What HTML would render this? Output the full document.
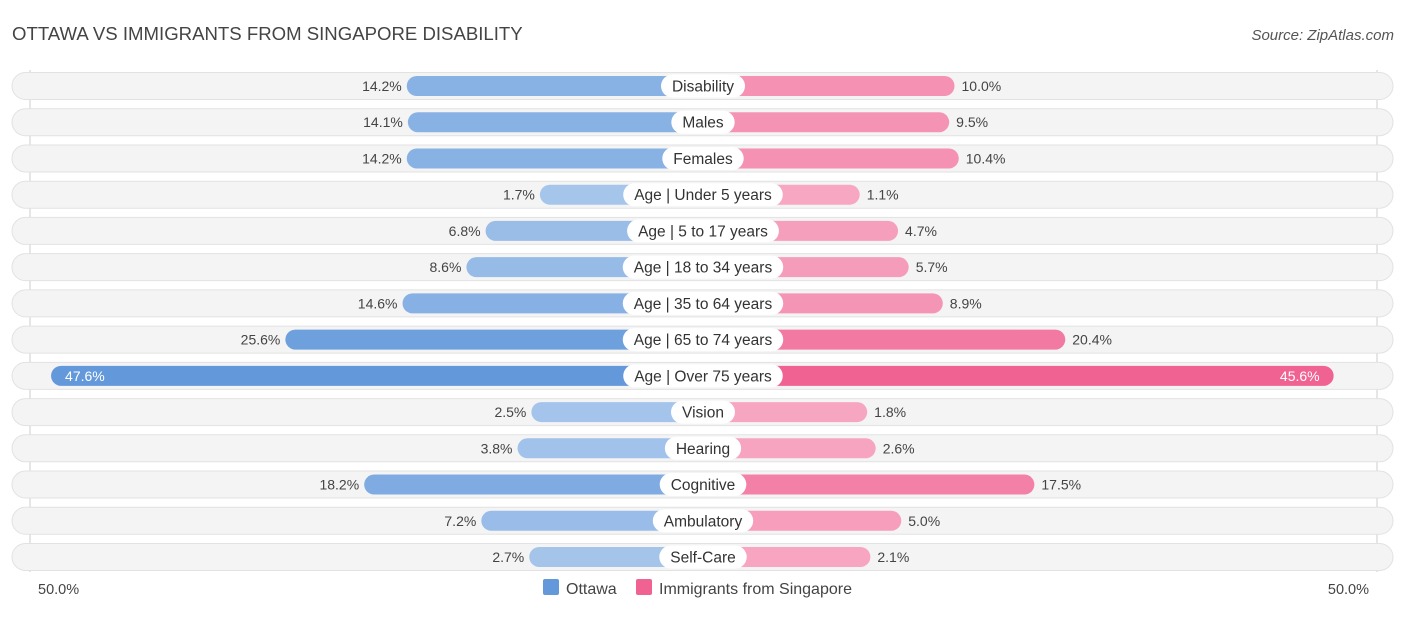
<!DOCTYPE html>
<html><head><meta charset="utf-8"><style>
body{margin:0;background:#fff;font-family:"Liberation Sans",sans-serif;}
</style></head><body>
<svg id="c" width="1406" height="612" xmlns="http://www.w3.org/2000/svg" font-family="Liberation Sans, sans-serif">
<text x="12" y="40" font-size="18.6" fill="#444">OTTAWA VS IMMIGRANTS FROM SINGAPORE DISABILITY</text>
<text x="1394" y="40" font-size="15" fill="#555" font-style="italic" text-anchor="end">Source: ZipAtlas.com</text>
<line x1="30" y1="70" x2="30" y2="572" stroke="#ccc"/>
<line x1="1377" y1="70" x2="1377" y2="572" stroke="#ccc"/>
<g id="rows"></g>
<text x="38" y="594" font-size="14.5" fill="#444">50.0%</text>
<text x="1369" y="594" font-size="14.5" fill="#444" text-anchor="end">50.0%</text>
<rect x="543" y="579" width="16" height="16" rx="2" fill="#6399db"/>
<text x="566" y="594" font-size="16" fill="#444">Ottawa</text>
<rect x="636" y="579" width="16" height="16" rx="2" fill="#f06292"/>
<text x="659" y="594" font-size="16" fill="#444">Immigrants from Singapore</text>
</svg>
<script>
const categories=["Disability","Males","Females","Age | Under 5 years","Age | 5 to 17 years","Age | 18 to 34 years","Age | 35 to 64 years","Age | 65 to 74 years","Age | Over 75 years","Vision","Hearing","Cognitive","Ambulatory","Self-Care"];
const ottawa=[14.2,14.1,14.2,1.7,6.8,8.6,14.6,25.6,47.6,2.5,3.8,18.2,7.2,2.7];
const singapore=[10.0,9.5,10.4,1.1,4.7,5.7,8.9,20.4,45.6,1.8,2.6,17.5,5.0,2.1];
const NS="http://www.w3.org/2000/svg";
const g=document.getElementById('rows');
const cx=703,y0=86,pitch=36.23,base=145,scale=10.65;
function xw(v){return base+scale*v;}
function mix(a,b,t){const p=s=>[1,3,5].map(i=>parseInt(s.substr(i,2),16));const A=p(a),B=p(b);return 'rgb('+A.map((c,i)=>Math.round(c+(B[i]-c)*t)).join(',')+')';}
function mk(tag,attrs){const e=document.createElementNS(NS,tag);for(const k in attrs)e.setAttribute(k,attrs[k]);return e;}
categories.forEach((cat,i)=>{
  const y=y0+i*pitch;
  const bg=mk('rect',{x:12,y:y-13.5,width:1381,height:27,rx:13.5,fill:'#f4f4f4',stroke:'#e2e2e2'});
  
  
  g.appendChild(bg);
  const t1=Math.min(ottawa[i]/30,1),t2=Math.min(singapore[i]/30,1);
  const wl=xw(ottawa[i]);
  const bl=mk('rect',{x:cx-wl,y:y-10,width:wl,height:20,rx:10,fill:mix('#aac8ec','#6399db',t1)});
  
  
  g.appendChild(bl);
  const wr=xw(singapore[i]);
  const br=mk('rect',{x:cx,y:y-10,width:wr,height:20,rx:10,fill:mix('#f7aac4','#f06292',t2)});
  
  
  g.appendChild(br);
  const big=ottawa[i]>40;
  const lv=mk('text',{x:big?cx-wl+14:cx-wl-5,y:y+5,'font-size':14,fill:big?'#fff':'#444','text-anchor':big?'start':'end'});
  lv.textContent=ottawa[i].toFixed(1)+'%';
  
  
  g.appendChild(lv);
  const big2=singapore[i]>40;
  const rv=mk('text',{x:big2?cx+wr-14:cx+wr+7,y:y+5,'font-size':14,fill:big2?'#fff':'#444','text-anchor':big2?'end':'start'});
  rv.textContent=singapore[i].toFixed(1)+'%';
  
  
  g.appendChild(rv);
  const lab=mk('text',{x:cx,y:y+5.5,'font-size':15.5,fill:'#333','text-anchor':'middle'});
  lab.textContent=cat;
  
  
  g.appendChild(lab);
  const w=lab.getComputedTextLength()+22;
  const pill=mk('rect',{x:cx-w/2,y:y-11.5,width:w,height:23,rx:11.5,fill:'#fff'});
  
  
  g.insertBefore(pill,lab);
});
</script>
</body></html>
